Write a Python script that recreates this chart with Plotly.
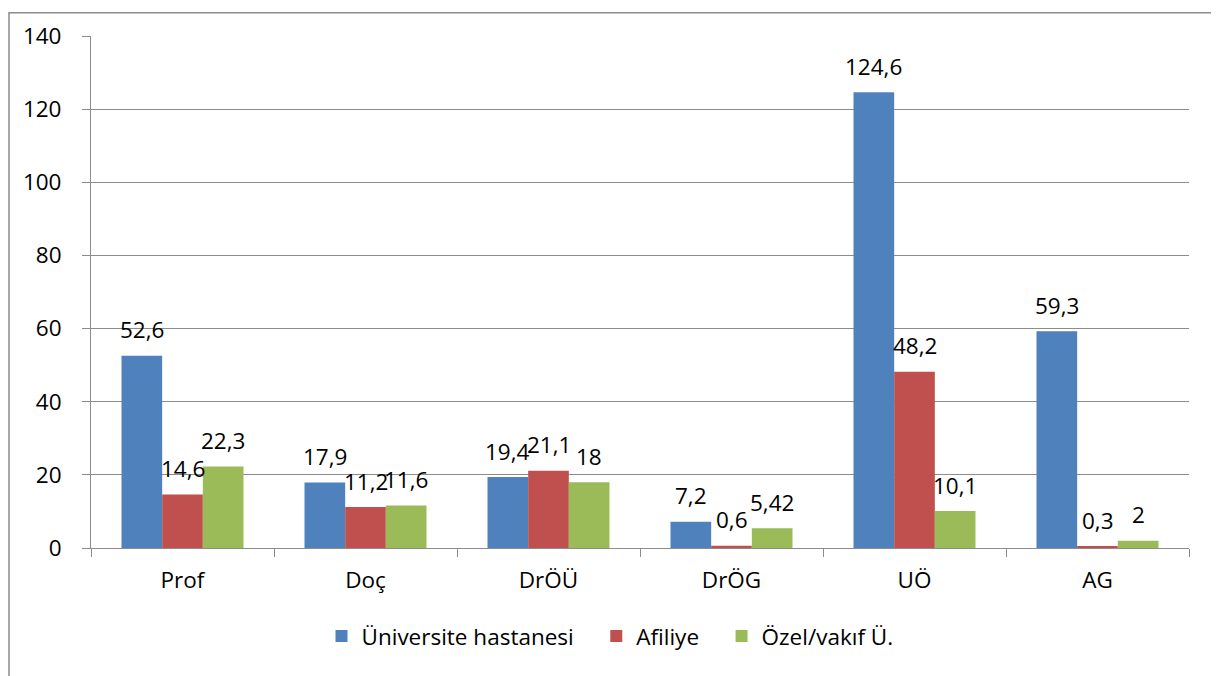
import plotly.graph_objects as go

categories = ["Prof", "Doç", "DrÖÜ", "DrÖG", "UÖ", "AG"]
series_names = ["Üniversite hastanesi", "Afiliye", "Özel/vakıf Ü."]
universite = [52.6, 17.9, 19.4, 7.2, 124.6, 59.3]
afiliye = [14.6, 11.2, 21.1, 0.6, 48.2, 0.3]
ozel = [22.3, 11.6, 18, 5.42, 10.1, 2]
y_ticks = [0, 20, 40, 60, 80, 100, 120, 140]

colors = ["#4F81BD", "#C0504D", "#9BBB59"]
series_values = [universite, afiliye, ozel]

FONT = "Open Sans"
FS = 22.5
OFF = 8  # page body margin
W, H = 1219 - OFF, 676 - OFF
# plot area in page coordinates
PL, PR, PT, PB = 91, 1189, 33, 548
ml, mt = PL - OFF, PT - OFF
mr = W + OFF - PR
mb = H + OFF - PB
plot_w = PR - PL
ph = PB - PT
cat_w = plot_w / len(categories)
bargap = 1 / 3
bar_w = cat_w * (1 - bargap) / 3
PAD = "\u00a0\u00a0\u00a0"  # extra spacing between legend entries


def fmt(v):
    return f"{v:g}".replace(".", ",")


fig = go.Figure()
for k, (name, vals, col) in enumerate(zip(series_names, series_values, colors)):
    fig.add_trace(go.Bar(
        name=name + (PAD if k < len(series_names) - 1 else ""),
        x=categories, y=vals,
        marker=dict(color=col, line=dict(width=0)),
    ))

annotations = []
for i, vals in enumerate(series_values):
    for c, v in zip(categories, vals):
        annotations.append(dict(
            x=c, y=v, xref="x", yref="y", text=fmt(v), showarrow=False,
            xshift=(i - 1) * bar_w, yshift=26, yanchor="middle",
            font=dict(family=FONT, size=FS, color="black"),
        ))

fig.update_layout(
    width=W, height=H,
    margin=dict(l=ml, r=mr, t=mt, b=mb, pad=0),
    paper_bgcolor="white", plot_bgcolor="white",
    barmode="group", bargap=bargap, bargroupgap=0,
    font=dict(family=FONT, size=FS, color="black"),
    showlegend=True,
    legend=dict(orientation="h", x=0.5 - 30 / plot_w, xanchor="center",
                y=(PB - 637) / ph, yanchor="middle",
                font=dict(family=FONT, size=FS, color="black"),
                itemwidth=30, tracegroupgap=0),
    annotations=annotations,
    shapes=[dict(type="rect", xref="paper", yref="paper",
                 x0=(9 - PL) / plot_w, x1=(1214 - PL) / plot_w,
                 y0=-0.4, y1=(PB - 9.5) / ph,
                 line=dict(color="#8c8c8c", width=1.5), layer="below")],
)
fig.update_yaxes(
    range=[0, 140], tickvals=y_ticks, ticktext=[str(t) for t in y_ticks],
    showgrid=True, gridcolor="#8c8c8c", gridwidth=1,
    showline=True, linecolor="#8c8c8c", linewidth=1,
    ticks="outside", ticklen=8, tickcolor="#8c8c8c",
    ticklabelstandoff=16, zeroline=False,
    tickfont=dict(family=FONT, size=FS, color="black"),
)
fig.update_xaxes(
    showline=True, linecolor="#8c8c8c", linewidth=1,
    ticks="outside", ticklen=8, tickcolor="#8c8c8c", tickson="boundaries",
    ticklabelstandoff=12,
    tickfont=dict(family=FONT, size=FS, color="black"),
)

fig.write_html("out.html")
